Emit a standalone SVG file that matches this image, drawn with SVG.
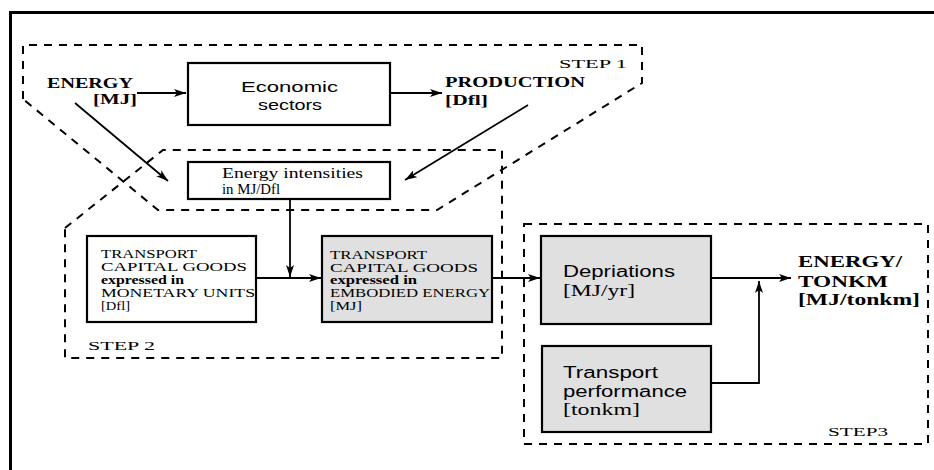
<svg xmlns="http://www.w3.org/2000/svg" width="934" height="470" viewBox="0 0 934 470">
  <style>
    .frame { fill: none; stroke: #000; stroke-width: 3; }
    .step { fill: none; stroke: #000; stroke-width: 2; stroke-dasharray: 8 7; }
    .box { fill: #fff; stroke: #000; stroke-width: 2.2; }
    .box.shaded { fill: #e0e0e0; }
    .wire { fill: none; stroke: #000; stroke-width: 1.8; }
    text { font-family: "Liberation Serif", "Times New Roman", serif; fill: #000; }
    .lbl { font-size: 15.5px; font-weight: bold; }
    .step-lbl { font-size: 13.5px; }
    .sans { font-family: "Liberation Sans", Arial, sans-serif; font-size: 14px; }
    .big { font-family: "Liberation Sans", Arial, sans-serif; font-size: 16px; }
    .mid { font-size: 14px; }
    .small { font-size: 11.5px; }
    .out { font-size: 16.5px; font-weight: bold; }
  </style>
  <defs>
    <marker id="arrow" viewBox="0 0 12 8" refX="12" refY="4" markerWidth="12" markerHeight="8" markerUnits="userSpaceOnUse" orient="auto">
      <path d="M0,0 L12,4 L0,8 L3,4 Z" fill="#000"/>
    </marker>
  </defs>

  <rect width="934" height="470" fill="#fff"/>

  <!-- outer frame, open to the right and bottom -->
  <path class="frame" d="M10.5,472 L10.5,12.5 L936,12.5"/>

  <!-- step boundaries -->
  <g id="step1">
    <polygon class="step" points="23,99 23,45 642,45 642,83 437,210 158,210"/>
    <text class="step-lbl" x="559" y="68" textLength="68" lengthAdjust="spacingAndGlyphs">STEP 1</text>
  </g>
  <g id="step2">
    <polygon class="step" points="65,228 163,150 502,150 502,358 65,358"/>
    <text class="step-lbl" x="88" y="350" textLength="67" lengthAdjust="spacingAndGlyphs">STEP 2</text>
  </g>
  <g id="step3">
    <rect class="step" x="524" y="224" width="404" height="220"/>
    <text class="step-lbl" x="828" y="436" textLength="60" lengthAdjust="spacingAndGlyphs">STEP3</text>
  </g>

  <!-- connectors -->
  <g id="connectors">
    <line class="wire" x1="137" y1="93" x2="186" y2="93" marker-end="url(#arrow)"/>
    <line class="wire" x1="390" y1="93" x2="442" y2="93" marker-end="url(#arrow)"/>
    <line class="wire" x1="75" y1="103" x2="168" y2="181" marker-end="url(#arrow)"/>
    <line class="wire" x1="528" y1="105" x2="405" y2="180" marker-end="url(#arrow)"/>
    <line class="wire" x1="290" y1="199" x2="290" y2="277" marker-end="url(#arrow)"/>
    <line class="wire" x1="256" y1="278" x2="321" y2="278" marker-end="url(#arrow)"/>
    <line class="wire" x1="492" y1="278" x2="540" y2="278" marker-end="url(#arrow)"/>
    <line class="wire" x1="711" y1="278" x2="791" y2="278" marker-end="url(#arrow)"/>
    <polyline class="wire" points="711,383 759,383 759,281" marker-end="url(#arrow)"/>
  </g>

  <!-- nodes -->
  <g id="energy-in">
    <text class="lbl" x="47" y="88" textLength="86" lengthAdjust="spacingAndGlyphs">ENERGY</text>
    <text class="lbl" x="93" y="104" textLength="44" lengthAdjust="spacingAndGlyphs">[MJ]</text>
  </g>
  <g id="economic-sectors">
    <rect class="box" x="188" y="63" width="202" height="62"/>
    <text class="sans" x="241" y="92" textLength="97" lengthAdjust="spacingAndGlyphs">Economic</text>
    <text class="sans" x="258" y="110" textLength="64" lengthAdjust="spacingAndGlyphs">sectors</text>
  </g>
  <g id="production">
    <text class="lbl" x="445" y="87" textLength="140" lengthAdjust="spacingAndGlyphs">PRODUCTION</text>
    <text class="lbl" x="445" y="105" textLength="43" lengthAdjust="spacingAndGlyphs">[Dfl]</text>
  </g>
  <g id="energy-intensities">
    <rect class="box" x="188" y="162" width="202" height="37"/>
    <text class="mid" x="222" y="178" textLength="141" lengthAdjust="spacingAndGlyphs">Energy intensities</text>
    <text class="mid" x="222" y="194" textLength="58" lengthAdjust="spacingAndGlyphs">in MJ/Dfl</text>
  </g>
  <g id="capital-monetary">
    <rect class="box" x="87" y="236" width="169" height="86"/>
    <text class="small" x="101" y="258" textLength="96" lengthAdjust="spacingAndGlyphs">TRANSPORT</text>
    <text class="small" x="101" y="271" textLength="146" lengthAdjust="spacingAndGlyphs">CAPITAL GOODS</text>
    <text class="small" x="101" y="284" textLength="83" lengthAdjust="spacingAndGlyphs" font-weight="bold">expressed in</text>
    <text class="small" x="101" y="297" textLength="154" lengthAdjust="spacingAndGlyphs">MONETARY UNITS</text>
    <text class="small" x="101" y="310" textLength="29" lengthAdjust="spacingAndGlyphs">[Dfl]</text>
  </g>
  <g id="capital-embodied">
    <rect class="box shaded" x="322" y="236" width="170" height="86"/>
    <text class="small" x="330" y="259" textLength="97" lengthAdjust="spacingAndGlyphs">TRANSPORT</text>
    <text class="small" x="330" y="272" textLength="148" lengthAdjust="spacingAndGlyphs">CAPITAL GOODS</text>
    <text class="small" x="330" y="284" textLength="87" lengthAdjust="spacingAndGlyphs" font-weight="bold">expressed in</text>
    <text class="small" x="330" y="297" textLength="160" lengthAdjust="spacingAndGlyphs">EMBODIED ENERGY</text>
    <text class="small" x="330" y="310" textLength="32" lengthAdjust="spacingAndGlyphs">[MJ]</text>
  </g>
  <g id="depriations">
    <rect class="box shaded" x="541" y="236" width="170" height="88"/>
    <text class="big" x="563" y="277" textLength="112" lengthAdjust="spacingAndGlyphs">Depriations</text>
    <text x="563" y="296" font-size="16" textLength="72" lengthAdjust="spacingAndGlyphs">[MJ/yr]</text>
  </g>
  <g id="transport-performance">
    <rect class="box shaded" x="542" y="346" width="169" height="86"/>
    <text class="big" x="563" y="378" textLength="95" lengthAdjust="spacingAndGlyphs">Transport</text>
    <text class="big" x="563" y="397" textLength="124" lengthAdjust="spacingAndGlyphs">performance</text>
    <text x="563" y="415" font-size="16" textLength="77" lengthAdjust="spacingAndGlyphs">[tonkm]</text>
  </g>
  <g id="energy-per-tonkm">
    <text class="out" x="798" y="267" textLength="104" lengthAdjust="spacingAndGlyphs">ENERGY/</text>
    <text class="out" x="798" y="287" textLength="90" lengthAdjust="spacingAndGlyphs">TONKM</text>
    <text class="out" x="798" y="305" textLength="122" lengthAdjust="spacingAndGlyphs">[MJ/tonkm]</text>
  </g>
</svg>
